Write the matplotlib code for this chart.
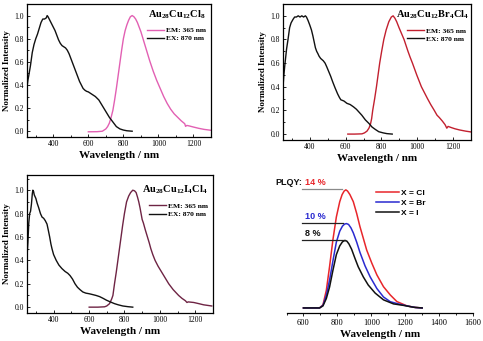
import matplotlib
matplotlib.use("Agg")
import matplotlib.pyplot as plt
from matplotlib.ticker import MultipleLocator

plt.rcParams['mathtext.fontset'] = 'custom'
plt.rcParams['mathtext.rm'] = 'Liberation Serif'
plt.rcParams['mathtext.bf'] = 'Liberation Serif:bold'

W, H = 483, 341
SERIF = 'Liberation Serif'
SANS = 'Liberation Sans'

# ---------------- data ----------------
# Au28Cu12Cl8
cl_ex_wl = [250, 255, 260, 270, 280, 290, 300, 310, 320, 330, 340, 350, 360, 365, 370, 380, 390, 400,
            410, 420, 430, 440, 450, 460, 470, 480, 490, 500, 510, 520, 530, 540, 550, 560, 570, 580,
            590, 600, 620, 640, 660, 680, 700, 720, 740, 760, 780, 800, 820, 850]
cl_ex_int = [0.38, 0.44, 0.48, 0.57, 0.68, 0.75, 0.80, 0.84, 0.89, 0.94, 0.97, 0.97, 0.98, 1.00, 0.99, 0.96,
             0.93, 0.90, 0.87, 0.83, 0.79, 0.76, 0.74, 0.73, 0.72, 0.70, 0.67, 0.63, 0.59, 0.55, 0.51, 0.47,
             0.43, 0.40, 0.37, 0.355, 0.345, 0.34, 0.32, 0.30, 0.27, 0.22, 0.17, 0.12, 0.08, 0.04, 0.02,
             0.01, 0.004, 0.0]
cl_em_wl = [600, 650, 680, 700, 710, 720, 730, 740, 750, 760, 770, 780, 790, 800, 810, 820, 830, 840, 850,
            860, 870, 880, 890, 900, 910, 930, 950, 970, 990, 1010, 1030, 1050, 1070, 1090, 1110, 1130,
            1150, 1155, 1162, 1175, 1200, 1230, 1260, 1300]
cl_em_int = [-0.005, -0.004, 0.0, 0.02, 0.04, 0.07, 0.12, 0.18, 0.27, 0.37, 0.48, 0.59, 0.70, 0.80, 0.87,
             0.92, 0.96, 0.99, 1.00, 0.99, 0.97, 0.94, 0.90, 0.86, 0.81, 0.71, 0.61, 0.52, 0.44, 0.37, 0.30,
             0.24, 0.19, 0.15, 0.12, 0.09, 0.065, 0.042, 0.05, 0.046, 0.036, 0.025, 0.016, 0.008]

# Au28Cu12Br4Cl4
br_ex_wl = [250, 255, 260, 265, 270, 278, 287, 295, 306, 315, 325, 335, 345, 355, 365, 375, 381, 390, 400,
            409, 417, 424, 431, 438, 445, 451, 460, 475, 485, 494, 505, 516, 528, 541, 555, 565, 573, 590,
            607, 625, 644, 660, 672, 690, 710, 730, 747, 765, 785, 810, 830, 860]
br_ex_int = [0.40, 0.50, 0.58, 0.65, 0.72, 0.80, 0.90, 0.94, 0.97, 0.99, 0.99, 1.00, 0.99, 1.00, 0.99,
             1.00, 0.99, 0.96, 0.92, 0.88, 0.83, 0.78, 0.73, 0.70, 0.68, 0.66, 0.64, 0.62, 0.60, 0.57, 0.53,
             0.49, 0.44, 0.39, 0.34, 0.31, 0.29, 0.28, 0.26, 0.25, 0.23, 0.21, 0.19, 0.16, 0.12, 0.09, 0.06,
             0.04, 0.02, 0.01, 0.004, 0.0]
br_em_wl = [612, 650, 691, 705, 719, 730, 738, 745, 751, 762, 772, 781, 790, 801, 813, 826, 841, 855, 865,
            875, 885, 898, 912, 926, 937, 948, 960, 973, 985, 997, 1010, 1023, 1040, 1057, 1075, 1095, 1110,
            1123, 1140, 1155, 1165, 1172, 1190, 1210, 1236, 1270, 1300]
br_em_int = [0.0, 0.0, 0.002, 0.01, 0.025, 0.05, 0.08, 0.13, 0.20, 0.30, 0.40, 0.50, 0.60, 0.70, 0.80,
             0.88, 0.95, 0.99, 1.00, 0.98, 0.95, 0.90, 0.85, 0.80, 0.75, 0.70, 0.65, 0.60, 0.55, 0.50, 0.45,
             0.40, 0.35, 0.30, 0.25, 0.20, 0.16, 0.14, 0.11, 0.08, 0.05, 0.065, 0.055, 0.045, 0.035, 0.025,
             0.018]

# Au28Cu12I4Cl4
i_ex_wl = [250, 255, 260, 265, 270, 275, 280, 283, 287, 291, 300, 307, 316, 326, 335, 344, 353, 363, 370,
           378, 385, 391, 400, 415, 430, 447, 465, 480, 493, 507, 521, 535, 549, 565, 582, 600, 614, 640,
           660, 680, 698, 720, 744, 765, 791, 820, 847]
i_ex_int = [0.43, 0.55, 0.72, 0.80, 0.82, 0.88, 0.97, 1.00, 0.99, 0.96, 0.93, 0.89, 0.85, 0.80, 0.77, 0.76,
            0.74, 0.71, 0.66, 0.60, 0.54, 0.50, 0.45, 0.40, 0.36, 0.33, 0.305, 0.29, 0.27, 0.24, 0.20, 0.17,
            0.15, 0.13, 0.12, 0.115, 0.11, 0.10, 0.09, 0.075, 0.06, 0.045, 0.03, 0.02, 0.01, 0.004, 0.0]
i_em_wl = [601, 650, 688, 700, 716, 728, 735, 744, 754, 763, 772, 781, 790, 800, 812, 824, 835, 847, 857,
           866, 874, 881, 888, 894, 900, 907, 918, 930, 940, 949, 960, 973, 990, 1010, 1030, 1050, 1075,
           1106, 1125, 1144, 1153, 1160, 1191, 1220, 1247, 1293]
i_em_int = [0.0, 0.0, 0.003, 0.01, 0.03, 0.07, 0.10, 0.20, 0.30, 0.40, 0.50, 0.60, 0.70, 0.80, 0.90, 0.95,
            0.98, 1.00, 0.995, 0.98, 0.94, 0.90, 0.85, 0.80, 0.75, 0.72, 0.66, 0.60, 0.55, 0.50, 0.45, 0.40,
            0.35, 0.30, 0.25, 0.20, 0.15, 0.10, 0.075, 0.055, 0.04, 0.045, 0.04, 0.03, 0.02, 0.01]

# PL spectra scaled by quantum yield
plqy_labels = ['X = Cl', 'X = Br', 'X = I']
plqy_values = [14, 10, 8]
plqy_colors = ['#e8262b', '#2a2ad0', '#111111']
pl_cl_wl = [600, 650, 695, 715, 735, 754, 774, 794, 814, 828, 840, 850, 860, 874, 894, 914, 933, 953, 973,
            1003, 1033, 1072, 1112, 1151, 1211, 1260, 1300]
pl_cl_int = [0.0, 0.0, 0.0, 0.026, 0.15, 0.35, 0.58, 0.77, 0.90, 0.96, 0.99, 1.0, 0.99, 0.96, 0.90, 0.80,
             0.69, 0.59, 0.49, 0.38, 0.28, 0.18, 0.11, 0.054, 0.017, 0.004, 0.0]
pl_br_wl = [600, 650, 695, 715, 735, 754, 774, 794, 814, 830, 843, 854, 866, 880, 894, 914, 933, 963, 993,
            1033, 1072, 1112, 1161, 1211, 1260, 1300]
pl_br_int = [0.0, 0.0, 0.0, 0.03, 0.15, 0.33, 0.56, 0.78, 0.91, 0.97, 0.995, 1.0, 0.99, 0.95, 0.89, 0.78,
             0.66, 0.50, 0.37, 0.23, 0.13, 0.074, 0.047, 0.024, 0.005, 0.0]
pl_i_wl = [600, 650, 695, 715, 735, 754, 774, 794, 814, 830, 844, 856, 868, 884, 903, 923, 953, 982, 1023,
           1072, 1131, 1192, 1250, 1300]
pl_i_int = [0.0, 0.0, 0.0, 0.03, 0.14, 0.31, 0.56, 0.79, 0.92, 0.98, 1.0, 0.99, 0.95, 0.87, 0.74, 0.61,
            0.46, 0.34, 0.22, 0.12, 0.06, 0.037, 0.01, 0.0]

x_ticks = [400, 600, 800, 1000, 1200]
pl_ticks = [600, 800, 1000, 1200, 1400, 1600]

# ---------------- figure ----------------
fig = plt.figure(figsize=(W / 100, H / 100), dpi=100)


def axes_px(left, top, right, bottom):
    return fig.add_axes([left / W, 1 - bottom / H, (right - left) / W, (bottom - top) / H])


def spectrum_panel(ax, ex_wl, ex_int, em_wl, em_int, em_color, title, ylim, title_xy, leg_anchor):
    ax.plot(em_wl, em_int, color=em_color, lw=1.0, label='EM: 365 nm')
    ax.plot(ex_wl, ex_int, color='#111111', lw=1.0, label='EX: 870 nm')
    ax.set_xlim(250, 1300)
    ax.set_ylim(*ylim)
    ax.set_xticks(x_ticks)
    ax.set_yticks([0.0, 0.2, 0.4, 0.6, 0.8, 1.0])
    ax.xaxis.set_minor_locator(MultipleLocator(100))
    ax.yaxis.set_minor_locator(MultipleLocator(0.1))
    ax.tick_params(which='both', direction='in', labelsize=5.5, pad=2, width=0.6)
    ax.tick_params(which='major', length=2.5)
    ax.tick_params(which='minor', length=1.5)
    ax.set_yticklabels(['0.0', '0.2', '0.4', '0.6', '0.8', '1.0'])
    for lab in ax.get_xticklabels() + ax.get_yticklabels():
        lab.set_fontfamily(SERIF)
    for sp in ax.spines.values():
        sp.set_linewidth(0.9)
    ax.set_xlabel('Wavelength / nm', fontfamily=SERIF, fontweight='bold', fontsize=8.0, labelpad=2)
    ax.set_ylabel('Normalized Intensity', fontfamily=SERIF, fontweight='bold', fontsize=6.5, labelpad=3)
    ax.text(title_xy[0], title_xy[1], title, transform=ax.transAxes, fontsize=7.5,
            ha='right', va='center')
    ax.legend(loc='upper right', bbox_to_anchor=leg_anchor, frameon=False,
              prop={'family': SERIF, 'weight': 'bold', 'size': 5.4},
              handlelength=2.2, handletextpad=0.3, labelspacing=0.25, borderaxespad=0)


ax1 = axes_px(27, 4, 211, 137)
spectrum_panel(ax1, cl_ex_wl, cl_ex_int, cl_em_wl, cl_em_int, '#e260b3',
               r'$\mathbf{Au_{28}Cu_{12}Cl_8}$', (-0.05, 1.10), (0.97, 0.92), (0.99, 0.85))

ax2 = axes_px(283, 4, 471, 140)
spectrum_panel(ax2, br_ex_wl, br_ex_int, br_em_wl, br_em_int, '#c2202f',
               r'$\mathbf{Au_{28}Cu_{12}Br_4Cl_4}$', (-0.05, 1.10), (0.99, 0.92), (0.99, 0.85))

ax3 = axes_px(27, 175, 213, 313)
spectrum_panel(ax3, i_ex_wl, i_ex_int, i_em_wl, i_em_int, '#6e2444',
               r'$\mathbf{Au_{28}Cu_{12}I_4Cl_4}$', (-0.05, 1.13), (0.97, 0.89), (0.99, 0.82))

# ---------------- PLQY panel ----------------
ax4 = axes_px(286.5, 173, 473, 313)
pl_series = [(pl_cl_wl, pl_cl_int), (pl_br_wl, pl_br_int), (pl_i_wl, pl_i_int)]
for (wl, inten), q, c, lab in zip(pl_series, plqy_values, plqy_colors, plqy_labels):
    ax4.plot(wl, [v * q for v in inten], color=c, lw=1.1, label=lab)

ax4.set_xlim(500, 1600)
ax4.set_ylim(-0.6, 16.0)
ax4.set_xticks(pl_ticks)
ax4.xaxis.set_minor_locator(MultipleLocator(100))
ax4.set_yticks([])
for side in ('left', 'right', 'top'):
    ax4.spines[side].set_visible(False)
ax4.spines['bottom'].set_linewidth(0.9)
ax4.tick_params(axis='x', which='both', direction='out', labelsize=6, pad=2, width=0.6)
ax4.tick_params(axis='x', which='major', length=2.5)
ax4.tick_params(axis='x', which='minor', length=1.5)
for lab in ax4.get_xticklabels():
    lab.set_fontfamily(SERIF)
ax4.set_xlabel('Wavelength / nm', fontfamily=SERIF, fontweight='bold', fontsize=8.0, labelpad=2)

# quantum-yield markers: a leader line at each peak level with its value
line_colors = ['#8a8a8a', '#222222', '#222222']
line_ends = [826, 832, 844]
for q, c, lc, xe in zip(plqy_values, plqy_colors, line_colors, line_ends):
    y = q + 0.1
    ax4.plot([594, xe], [y, y], color=lc, lw=0.9)
    ax4.text(612, y + 0.25, f'{q} %', color=c, fontfamily=SANS, fontweight='bold',
             fontsize=6.5, ha='left', va='bottom')
ax4.text(590, plqy_values[0] + 0.35, 'PLQY:', color='#111111', fontfamily=SANS, fontweight='bold',
         fontsize=6.5, ha='right', va='bottom')

ax4.legend(loc='upper left', bbox_to_anchor=(0.46, 0.91), frameon=False,
           prop={'family': SANS, 'weight': 'bold', 'size': 6},
           handlelength=2.8, handletextpad=0.3, labelspacing=0.25, borderaxespad=0)

fig.savefig('out.png', dpi=100)
